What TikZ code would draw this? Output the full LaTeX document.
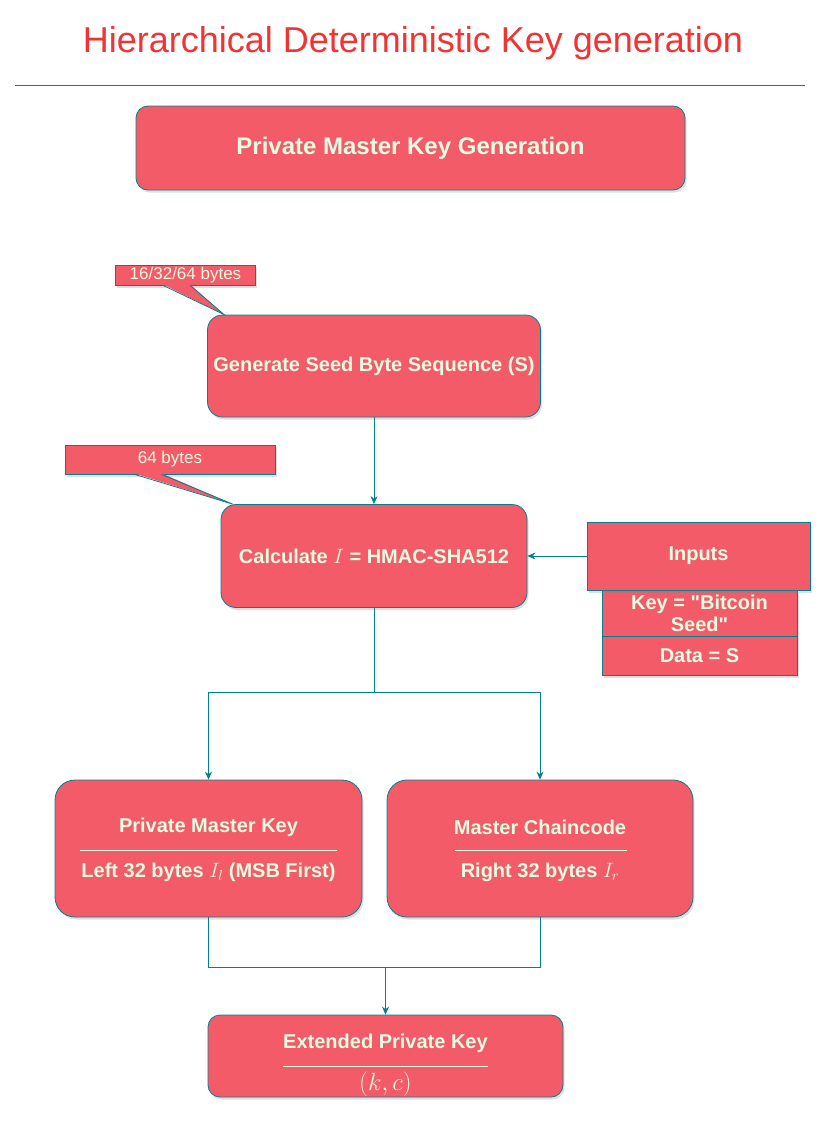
\documentclass[tikz,border=0pt]{standalone}
\usepackage[no-math]{fontspec}
\setmainfont{Liberation Sans}[Ligatures=TeXOff]
\usetikzlibrary{arrows.meta,shadows}
\definecolor{boxred}{HTML}{F45B69}
\definecolor{boxline}{HTML}{028090}
\definecolor{boxtext}{HTML}{E4FDE1}
\definecolor{titlered}{HTML}{F03434}
\tikzset{
  stepbox/.style={rectangle, draw=boxline, fill=boxred, text=boxtext, line width=0.8pt,
    font=\bfseries\fontsize{20}{24}\selectfont,
    drop shadow={shadow xshift=1.5pt, shadow yshift=-2.5pt, opacity=0.25}},
  listbox/.style={stepbox, rounded corners=0pt},
  callout/.style={rectangle, draw=boxline, fill=boxred, text=boxtext, line width=0.8pt,
    inner sep=0pt, font=\fontsize{17}{20}\selectfont,
    drop shadow={shadow xshift=1.5pt, shadow yshift=-2.5pt, opacity=0.25}},
  boxlabel/.style={text=boxtext, font=\bfseries\fontsize{20}{24}\selectfont},
  rule/.style={draw=boxtext, line width=0.8pt},
  link/.style={draw=boxline, line width=0.8pt},
  flow/.style={link, -{Stealth[length=8pt, width=7pt]}}
}
\begin{document}
\begin{tikzpicture}[x=1pt, y=-1pt]
  \useasboundingbox (0,0) rectangle (832,1130);
  % Header
  \node (title) [text=titlered, font=\fontsize{36}{40}\selectfont] at (413,43) {Hierarchical Deterministic Key generation};
  \draw[link, line width=1pt] (15,85) -- (805,85);
  \node (gen) [stepbox, rounded corners=12pt, minimum width=549pt, minimum height=84pt,
    font=\bfseries\fontsize{24}{28}\selectfont] at (410.5,148) {Private Master Key Generation};
  % Nodes
  \node (seed) [stepbox, rounded corners=15pt, minimum width=333pt, minimum height=102pt] at (374,366) {Generate Seed Byte Sequence (S)};
  \node (hmac) [stepbox, rounded corners=15pt, minimum width=306pt, minimum height=103pt] at (374,556) {Calculate $I$ = HMAC-SHA512};
  \node (key) [listbox, minimum width=195pt, minimum height=46pt, align=center,
    font=\bfseries\fontsize{20}{22}\selectfont] at (699.5,613) {Key = "Bitcoin\\Seed"};
  \node (data) [listbox, minimum width=195pt, minimum height=39pt] at (699.5,655.5) {Data = S};
  \node (inputs) [listbox, minimum width=223pt, minimum height=68pt] at (698.5,556) {Inputs};
  % Callouts
  \node (seedcall) [callout, minimum width=140pt, minimum height=20pt] at (185.5,275) {16/32/64 bytes};
  \fill[boxred] ([xshift=48pt, yshift=1pt]seedcall.south west) -- ([xshift=17pt]seed.north west)
    -- ([xshift=75pt, yshift=1pt]seedcall.south west) -- cycle;
  \draw[link] ([xshift=48pt]seedcall.south west) -- ([xshift=17pt]seed.north west)
    -- ([xshift=75pt]seedcall.south west);
  \node (hmaccall) [callout, minimum width=210pt, minimum height=29pt] at (170,459.5) {64 bytes};
  \fill[boxred] ([xshift=70pt, yshift=1pt]hmaccall.south west) -- ([xshift=12pt]hmac.north west)
    -- ([xshift=97pt, yshift=1pt]hmaccall.south west) -- cycle;
  \draw[link] ([xshift=70pt]hmaccall.south west) -- ([xshift=12pt]hmac.north west)
    -- ([xshift=97pt]hmaccall.south west);
  % Key boxes
  \node (pmk) [stepbox, rounded corners=20pt, minimum width=307pt, minimum height=137pt] at (208.5,848.5) {};
  \node (pmkt) [boxlabel] at (208.5,827) {Private Master Key};
  \node (pmkl) [boxlabel] at (208.5,872) {Left 32 bytes $I_l$ (MSB First)};
  \draw[rule] (80,850) -- (337,850);
  \node (mcc) [stepbox, rounded corners=20pt, minimum width=306pt, minimum height=137pt] at (540,848.5) {};
  \node (mcct) [boxlabel] at (540,827) {Master Chaincode};
  \node (mccl) [boxlabel] at (540,872) {Right 32 bytes $I_r$};
  \draw[rule] (455,850) -- (627,850);
  \node (xkey) [stepbox, rounded corners=12pt, minimum width=355pt, minimum height=82pt] at (385.5,1056) {};
  \node (xkeyt) [boxlabel] at (385.5,1043) {Extended Private Key};
  \node (xkeyv) [boxlabel, font=\fontsize{27}{30}\selectfont] at (385.5,1084) {$(k,c)$};
  \draw[rule] (283,1066) -- (488,1066);
  % Arrows
  \coordinate (split) at (374,692);
  \coordinate (join) at (385.5,967);
  \draw[flow] (seed) -- (hmac);
  \draw[flow] (inputs) -- (hmac);
  \draw[link] (hmac) -- (split);
  \draw[flow] (split) -| (pmk);
  \draw[flow] (split) -| (mcc);
  \draw[link] (pmk) |- (join);
  \draw[link] (mcc) |- (join);
  \draw[flow] (join) -- (xkey);
\end{tikzpicture}
\end{document}
